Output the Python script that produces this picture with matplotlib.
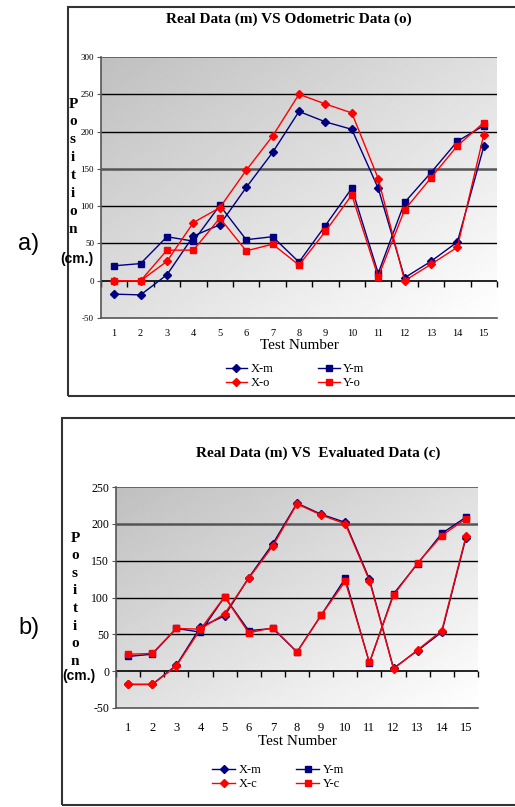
import numpy as np
import matplotlib
matplotlib.use("Agg")
import matplotlib.pyplot as plt
from matplotlib.patches import Rectangle

# ---------------- data ----------------
tests = list(range(1, 16))

# panel a: real (m) vs odometric (o)
a_xm = [-18, -19, 8, 60, 75, 125, 172, 227, 213, 203, 124, 4, 26, 52, 180]
a_ym = [20, 23, 59, 53, 101, 55, 59, 25, 74, 124, 10, 105, 145, 187, 208]
a_xo = [0, 0, 26, 78, 98, 148, 194, 250, 237, 225, 137, 0, 22, 45, 196]
a_yo = [0, 0, 41, 41, 84, 40, 49, 21, 66, 115, 5, 95, 138, 181, 212]

# panel b: real (m) vs evaluated (c)
b_xm = [-18, -18, 8, 60, 75, 127, 173, 228, 213, 202, 125, 4, 28, 53, 181]
b_ym = [20, 23, 58, 53, 101, 55, 58, 26, 76, 126, 11, 105, 146, 187, 209]
b_xc = [-18, -18, 7, 57, 78, 126, 170, 227, 212, 200, 123, 3, 29, 55, 183]
b_yc = [23, 24, 58, 57, 101, 52, 59, 26, 76, 122, 12, 103, 147, 184, 207]

title_a = "Real Data (m) VS Odometric Data (o)"
title_b = "Real Data (m) VS  Evaluated Data (c)"
labels_a = ["X-m", "X-o", "Y-m", "Y-o"]
labels_b = ["X-m", "X-c", "Y-m", "Y-c"]
yticks_a = list(range(-50, 301, 50))
yticks_b = list(range(-50, 251, 50))

# ---------------- style ----------------
W, H = 515, 807
SERIF = ["Liberation Serif", "DejaVu Serif"]
SANS = ["Liberation Sans", "DejaVu Sans"]
NAVY = "#000080"
RED = "#ff0000"

fig = plt.figure(figsize=(W / 100, H / 100), dpi=100)
fig.patch.set_facecolor("white")


def px_axes(l, t, r, b):
    return fig.add_axes([l / W, 1 - b / H, (r - l) / W, (b - t) / H])


def panel(ax, xm, ym, x2, y2, labels, yticks, ytick_fs, xtick_fs, xpad, thick_line,
          legend_center, legend_y, hlen, colsp, lab_x, lab_y0, lab_dy, cm_x, cm_y,
          title, title_xy):
    ymin, ymax = yticks[0], yticks[-1]
    ax.set_xlim(0.5, 15.5)
    ax.set_ylim(ymin, ymax)
    # gradient background (dark grey top-left to white bottom-right)
    gx, gy = np.meshgrid(np.linspace(0, 1, 200), np.linspace(0, 1, 200))
    v = 0.5 * gx + 0.5 * gy
    ax.imshow(v, extent=[0, 1, 0, 1], transform=ax.transAxes, cmap="gray",
              vmin=-3.0, vmax=1.0, aspect="auto", zorder=0, origin="upper",
              interpolation="bilinear")
    ax.set_facecolor("none")
    # grid lines
    for yv in yticks[1:]:
        if yv == thick_line:
            ax.axhline(yv, color="#555555", lw=1.8, zorder=1)
        elif yv == ymax:
            ax.axhline(yv, color="#555555", lw=1.2, zorder=1)
        elif yv != 0:
            ax.axhline(yv, color="black", lw=1.0, zorder=1)
    ax.axhline(0, color="black", lw=1.2, zorder=1)
    for s in ["top", "right"]:
        ax.spines[s].set_visible(False)
    ax.spines["left"].set_color("#555555")
    ax.spines["left"].set_linewidth(1.2)
    ax.spines["bottom"].set_color("#555555")
    ax.spines["bottom"].set_linewidth(1.2)
    ax.set_yticks(yticks)
    ax.set_yticklabels([str(t) for t in yticks], fontsize=ytick_fs, family=SERIF)
    ax.tick_params(axis="y", length=3, width=0.8, color="#555555", pad=2)
    ax.set_xticks(tests)
    ax.set_xticklabels([str(t) for t in tests], fontsize=xtick_fs, family=SERIF)
    ax.tick_params(axis="x", length=0, pad=xpad)
    ax.set_xlabel("Test Number", fontsize=11, family=SERIF, labelpad=1)
    # category tick marks on zero line
    sec = ax.secondary_xaxis((0 - ymin) / (ymax - ymin))
    sec.set_xticks(np.arange(0.5, 15.6, 1.0))
    sec.tick_params(axis="x", length=4, width=1.0, labelbottom=False, direction="out")
    sec.spines["bottom"].set_visible(False)

    l1, = ax.plot(tests, xm, color=NAVY, marker="D", ms=4, lw=1.0, zorder=4)
    l3, = ax.plot(tests, ym, color=NAVY, marker="s", ms=4.5, lw=1.0, zorder=4)
    l2, = ax.plot(tests, x2, color=RED, marker="D", ms=4, lw=1.0, zorder=5)
    l4, = ax.plot(tests, y2, color=RED, marker="s", ms=4.5, lw=1.0, zorder=5)
    handles = [l1, l2, l3, l4]
    fig.legend(handles, labels, ncol=2, loc="center",
               bbox_to_anchor=(legend_center / W, 1 - legend_y / H),
               frameon=False, prop={"family": SERIF, "size": 9},
               handlelength=hlen, handletextpad=0.3, columnspacing=colsp,
               labelspacing=0.15, borderpad=0)
    # vertical label
    for i, ch in enumerate("Position"):
        fig.text(lab_x / W, 1 - (lab_y0 + i * lab_dy) / H, ch, family=SERIF,
                 fontweight="bold", fontsize=11, ha="center", va="center")
    fig.text(cm_x / W, 1 - cm_y / H, "(cm.)", family=SANS, fontweight="bold",
             fontsize=10, ha="left", va="center")
    fig.text(title_xy[0] / W, 1 - title_xy[1] / H, title, family=SERIF,
             fontweight="bold", fontsize=11, ha="center", va="center")


# frames
fig.add_artist(Rectangle((68 / W, 1 - 396 / H), 0.99, (396 - 7) / H,
                         transform=fig.transFigure, fill=False, ec="#333333", lw=1.5))
fig.add_artist(Rectangle((62 / W, 1 - 805 / H), 0.99, (805 - 418) / H,
                         transform=fig.transFigure, fill=False, ec="#333333", lw=1.5))

ax_a = px_axes(101, 57, 497, 318)
panel(ax_a, a_xm, a_ym, a_xo, a_yo, labels_a, yticks_a, 6.5, 7.5, 8, 150,
      295, 376, 1.75, 3.5, 73, 104, 17.9, 60, 259, title_a, (289, 19))

ax_b = px_axes(116, 487, 478, 708)
panel(ax_b, b_xm, b_ym, b_xc, b_yc, labels_b, yticks_b, 8.5, 9, 10, 200,
      278, 777, 1.9, 2.7, 75, 538, 17.6, 62, 676, title_b, (318, 453))

fig.text(18 / W, 1 - 244 / H, "a)", family=SANS, fontsize=17, ha="left", va="center")
fig.text(18 / W, 1 - 628 / H, "b)", family=SANS, fontsize=17, ha="left", va="center")

fig.savefig("out.png", dpi=100)
